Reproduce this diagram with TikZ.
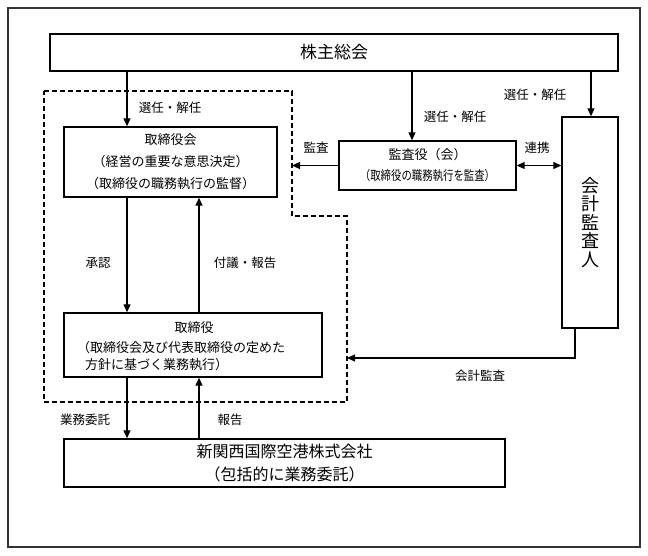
\documentclass[tikz,border=0pt]{standalone}
\usepackage{fontspec}
\setmainfont{Noto Sans CJK JP}
\usepackage{graphicx}
\usetikzlibrary{arrows.meta}

\begin{document}
\begin{tikzpicture}[x = 1pt, y = -1pt, orgbox/.style = {draw, line width = 1.4pt, align = center, inner sep = 0pt, font = \fontsize{13}{22}\selectfont}, tag/.style = {font = \fontsize{12.5}{14}\selectfont, inner sep = 1pt}, link/.style = {line width = 1.2pt, -{Triangle[length = 8pt, width = 7pt]}}]

  \useasboundingbox (0, 0) rectangle (648, 556);
  \draw[line width = 1.5pt, black!80] (8, 8) rectangle (640, 547);

  \node[orgbox, minimum width = 568pt, minimum height = 37pt, font = \fontsize{17}{20}\selectfont] (meeting) at (334, 52.5) {株主総会};

  \node[orgbox, minimum width = 213pt, minimum height = 70pt] (board) at (170.5, 162) {取締役会\\（経営の重要な意思決定）\\（取締役の職務執行の監督）};
  \node[orgbox, minimum width = 177pt, minimum height = 49pt, font = \fontsize{13}{21}\selectfont] (audit) at (427.5, 165.5) {監査役（会）\\\scalebox{0.8}[1]{（取締役の職務執行を監査）}};
  \node[orgbox, minimum width = 56pt, minimum height = 211pt, font = \fontsize{18}{18.5}\selectfont] (acct) at (590, 222.5) {会\\計\\監\\査\\人};

  \node[orgbox, minimum width = 258pt, minimum height = 64pt] (exec) at (193, 345) {};
  \node[font = \fontsize{13}{17}\selectfont, inner sep = 0pt] (execTitle) at (194, 328) {取締役};
  \node[font = \fontsize{13}{17}\selectfont, inner sep = 0pt, anchor = west, align = left] (execText) at (77, 356.5) {（取締役会及び代表取締役の定めた\\\hspace*{8pt}方針に基づく業務執行）};

  \node[orgbox, minimum width = 441pt, minimum height = 48pt, font = \fontsize{16}{23}\selectfont] (company) at (284.5, 463) {新関西国際空港株式会社\\（包括的に業務委託）};

  \draw[line width = 1.3pt, dash pattern = on 5pt off 3pt] (44, 91) -- (292, 91) -- (292, 216) -- (347, 216) -- (347, 402) -- (44, 402) -- cycle;

  \coordinate (laneA) at (127, 0);
  \coordinate (laneB) at (199, 0);
  \coordinate (laneC) at (412, 0);
  \coordinate (laneD) at (591, 0);
  \coordinate (auditEnd) at (292, 0);
  \coordinate (acctTurn) at (575, 358);
  \coordinate (acctEnd) at (347, 358);

  \draw[link] (meeting.south -| laneA) -- (board.north -| laneA);
  \draw[link] (meeting.south -| laneC) -- (audit.north -| laneC);
  \draw[link] (meeting.south -| laneD) -- (acct.north -| laneD);
  \draw[link] (audit.west) -- (audit.west -| auditEnd);
  \draw[link, {Triangle[length = 8pt, width = 7pt]}-{Triangle[length = 8pt, width = 7pt]}] (audit.east) -- (audit.east -| acct.west);
  \draw[link] (board.south -| laneA) -- (exec.north -| laneA);
  \draw[link] (exec.north -| laneB) -- (board.south -| laneB);
  \draw[link] (exec.south -| laneA) -- (company.north -| laneA);
  \draw[link] (company.north -| laneB) -- (exec.south -| laneB);
  \draw[link] (acct.south -| acctTurn) |- (acctEnd);

  \node[tag] (elect1) at (170, 108) {選任・解任};
  \node[tag] (elect2) at (455, 117) {選任・解任};
  \node[tag] (elect3) at (535, 95) {選任・解任};
  \node[tag] (auditLbl) at (316, 148) {監査};
  \node[tag] (coopLbl) at (537, 148) {連携};
  \node[tag] (approveLbl) at (98, 263) {承認};
  \node[tag] (reportLbl) at (245, 263) {付議・報告};
  \node[tag] (entrustLbl) at (85, 420) {業務委託};
  \node[tag] (replyLbl) at (230, 420) {報告};
  \node[tag] (acctLbl) at (480, 376) {会計監査};

\end{tikzpicture}
\end{document}
